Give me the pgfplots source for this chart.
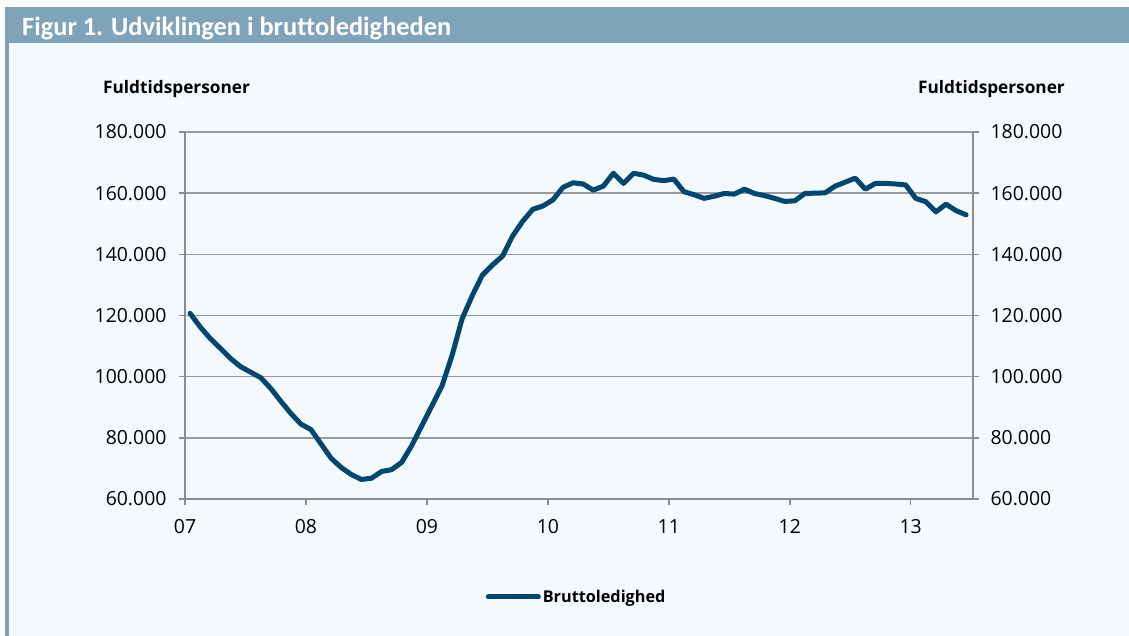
\documentclass[border=0pt]{standalone}
\usepackage{fontspec}
\setmainfont{Open Sans}
\newfontfamily\titlefont[Ligatures=NoCommon]{Carlito}
\usepackage{pgfplots}
\pgfplotsset{compat=1.18}
\definecolor{titlebar}{HTML}{7FA3B9}
\definecolor{panel}{HTML}{F4F9FD}
\definecolor{linecol}{HTML}{00466E}
\definecolor{gridcol}{HTML}{9A9A9A}
\definecolor{axiscol}{HTML}{8C8C8C}
\pgfplotstableread{
i v
0 120700
1 116300
2 112500
3 109300
4 106000
5 103300
6 101500
7 99700
8 96200
9 92000
10 88000
11 84500
12 82700
13 78000
14 73300
15 70300
16 68000
17 66400
18 66800
19 69000
20 69600
21 72000
22 77500
23 84000
24 90500
25 97000
26 107000
27 119000
28 126500
29 133200
30 136500
31 139400
32 146000
33 150800
34 154700
35 155800
36 157800
37 161900
38 163400
39 163000
40 161000
41 162300
42 166500
43 163200
44 166500
45 165900
46 164500
47 164100
48 164600
49 160500
50 159500
51 158300
52 159000
53 159900
54 159700
55 161300
56 159900
57 159200
58 158300
59 157300
60 157500
61 159900
62 160000
63 160100
64 162300
65 163600
66 164900
67 161300
68 163200
69 163200
70 163000
71 162700
72 158300
73 157200
74 153900
75 156400
76 154300
77 152900
}\datatable
\pgfplotsset{
  common/.style={
    scale only axis,
    width=788bp, height=367bp,
    at={(185bp,-499bp)}, anchor=south west,
    xmin=-0.5, xmax=77.68,
    ymin=60000, ymax=180000,
    ytick={60000,80000,...,180000},
    scaled y ticks=false,
    /pgf/number format/.cd, fixed, 1000 sep={.}, assume math mode=true,
    /pgfplots/.cd,
    tick align=outside,
    major tick length=6bp,
    tick style={axiscol, line width=1.5bp},
    axis line style={axiscol, line width=1.5bp},
    ticklabel style={font=\fontsize{19.5}{23}\selectfont, text=black},
  }
}
\begin{document}
\begin{tikzpicture}
\fill[white] (0,0) rectangle (1129bp,-636bp);
\fill[panel] (5bp,-7bp) rectangle (1129bp,-636bp);
\fill[titlebar] (5bp,-7bp) rectangle (1129bp,-43bp);
\fill[titlebar] (5bp,-43bp) rectangle (9bp,-636bp);
\node[anchor=base west, text=white, inner sep=0pt, font=\titlefont\bfseries\fontsize{26.5}{30}\selectfont] at (22bp,-35bp) {Figur 1. Udviklingen i bruttoledigheden};
\node[anchor=base west, inner sep=0pt, font=\bfseries\fontsize{17.3}{20}\selectfont] at (103bp,-93bp) {Fuldtidspersoner};
\node[anchor=base east, inner sep=0pt, font=\bfseries\fontsize{17.3}{20}\selectfont] at (1065bp,-93bp) {Fuldtidspersoner};
\begin{axis}[common,
    axis x line*=bottom, axis y line*=left,
    xtick={-0.5,11.5,...,71.5},
    xticklabels={07,08,09,10,11,12,13},
    xticklabel style={yshift=-11bp},
    yticklabel style={xshift=-9bp},
    ymajorgrids, major grid style={gridcol, line width=1.5bp},
    legend style={at={(0.497,-0.267)}, anchor=center, draw=none, fill=none,
      font=\bfseries\fontsize{16.3}{19}\selectfont, inner sep=0pt,
      legend cell align=left},
    legend image code/.code={\draw[#1, line cap=round] (0bp,0bp) -- (50bp,0bp);},
  ]
\addplot[linecol, line width=5bp, line join=round, line cap=round] table[x=i, y=v] {\datatable};
\addlegendentry{Bruttoledighed}
\end{axis}
\begin{axis}[common,
    axis x line=none, axis y line*=right,
    yticklabel style={xshift=8bp},
  ]
\addplot[draw=none] coordinates {(0,100000)};
\end{axis}
\end{tikzpicture}
\end{document}
